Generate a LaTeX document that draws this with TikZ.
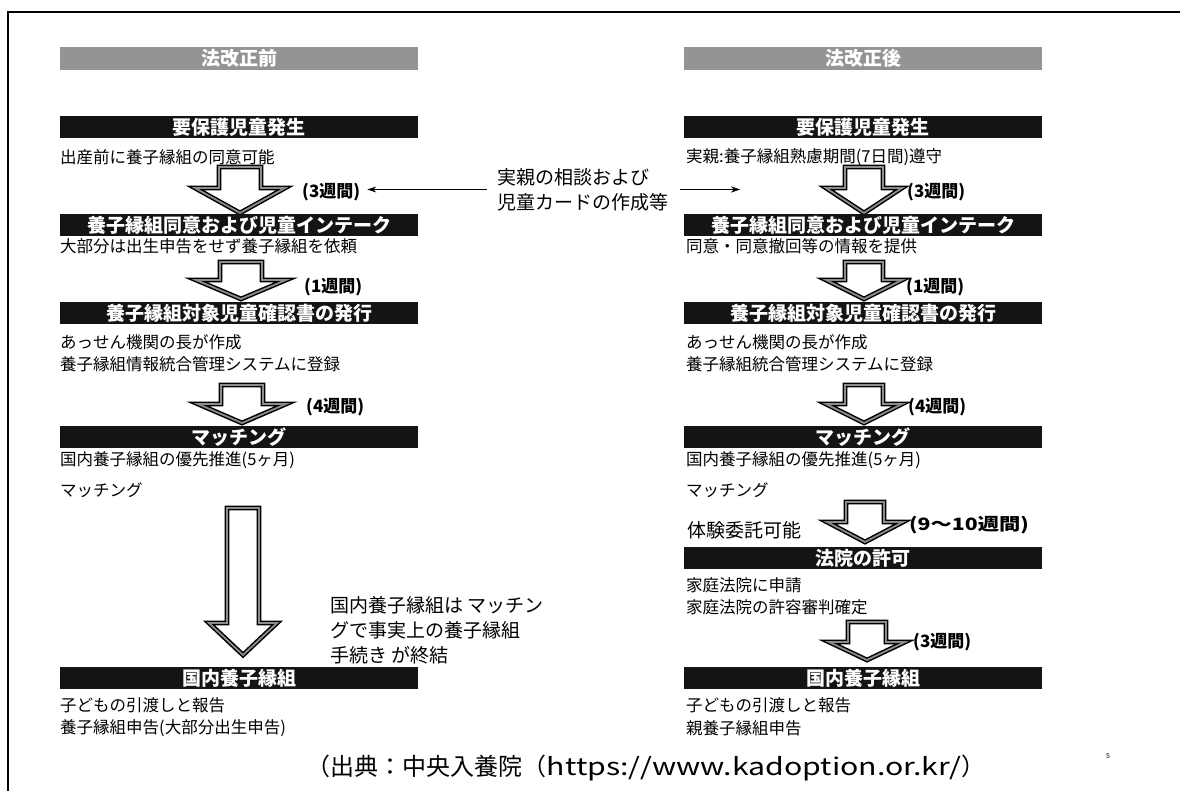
\documentclass[tikz,border=0pt]{standalone}
\usepackage{fontspec}
\setmainfont{Noto Sans CJK JP}
\usetikzlibrary{arrows.meta,calc}
\definecolor{hdrgray}{gray}{0.58}
\definecolor{barblack}{gray}{0.08}
\definecolor{bandgray}{gray}{0.55}
\newcommand{\blkarrow}[6]{%
  \draw[blockarrow] ({#1-#5},#2) -- ({#1+#5},#2) -- ({#1+#5},#3) -- ({#1+#6},#3) -- (#1,#4) -- ({#1-#6},#3) -- ({#1-#5},#3) -- cycle;}
\tikzset{
  hdr/.style={fill=hdrgray, minimum width=358pt, minimum height=23pt, inner sep=0pt, text=white, font=\fontsize{19}{20}\selectfont\bfseries},
  barbox/.style={fill=barblack, minimum width=358pt, minimum height=22pt, inner sep=0pt, text=white, font=\fontsize{19}{20}\selectfont\bfseries},
  body/.style={anchor=west, inner sep=0pt, font=\fontsize{16.5}{18}\selectfont},
  lbl/.style={anchor=west, inner sep=0pt, font=\fontsize{17}{18}\selectfont\bfseries},
  note/.style={anchor=west, inner sep=0pt, font=\fontsize{19}{19}\selectfont},
  blockarrow/.style={draw=black, line width=1.5pt, double=bandgray, double distance=1.8pt, fill=white, line join=miter},
  thinarr/.style={line width=0.8pt, -{Stealth[length=9pt,width=6pt]}},
}
\begin{document}
\begin{tikzpicture}[x=1pt,y=-1pt]
\useasboundingbox (0,0) rectangle (1180,791);
\draw[line width=1.4pt] (8,791) -- (8,12) -- (1180,12);
% ---------------- left column ----------------
\node[hdr] (hL) at (239,58.5) {法改正前};
\node[barbox] (L1) at (239,127) {要保護児童発生};
\node[body] (L1t) at (60,157) {出産前に養子縁組の同意可能};
\blkarrow{240}{167}{188}{213}{21}{45}
\node[lbl] (La1) at (302,192) {(3週間)};
\node[barbox] (L2) at (239,225) {養子縁組同意および児童インテーク};
\node[body] (L2t) at (60,246) {大部分は出生申告をせず養子縁組を依頼};
\blkarrow{241}{262}{280}{299}{21}{45}
\node[lbl] (La2) at (304,287) {(1週間)};
\node[barbox] (L3) at (239,313) {養子縁組対象児童確認書の発行};
\node[body] (L3t) at (60,342) {あっせん機関の長が作成};
\node[body] (L3u) at (60,364) {養子縁組情報統合管理システムに登録};
\blkarrow{242}{385}{404}{423}{21}{44}
\node[lbl] (La3) at (306,407) {(4週間)};
\node[barbox] (L4) at (239,437) {マッチング};
\node[body] (L4t) at (60,460) {国内養子縁組の優先推進(5ヶ月)};
\node[body] (L4u) at (60,490) {マッチング};
\blkarrow{243}{508}{623}{655}{16}{34}
\node[note] (Ln1) at (330,605) {国内養子縁組は マッチン};
\node[note] (Ln2) at (330,630) {グで事実上の養子縁組};
\node[note] (Ln3) at (330,655) {手続き が終結};
\node[barbox] (L5) at (239,678) {国内養子縁組};
\node[body] (L5t) at (60,705) {子どもの引渡しと報告};
\node[body] (L5u) at (60,728) {養子縁組申告(大部分出生申告)};
% ---------------- middle note ----------------
\node[anchor=west, inner sep=0pt, align=left, font=\fontsize{19}{25}\selectfont] (mid) at (497,189.5) {実親の相談および\\児童カードの作成等};
\coordinate (rtip) at (740,189.5);
\draw[thinarr] ($(mid.west)+(-10,0)$) -- ($(mid.west -| La1.east)+(7,0)$);
\draw[thinarr] ($(mid.east)+(12,0)$) -- (rtip);
% ---------------- right column ----------------
\node[hdr] (hR) at (863,58.5) {法改正後};
\node[barbox] (R1) at (863,127) {要保護児童発生};
\node[body] (R1t) at (686,157) {実親:養子縁組熟慮期間(7日間)遵守};
\blkarrow{864}{167}{188}{213}{19}{38}
\node[lbl] (Ra1) at (907,192) {(3週間)};
\node[barbox] (R2) at (863,225) {養子縁組同意および児童インテーク};
\node[body] (R2t) at (686,246) {同意・同意撤回等の情報を提供};
\blkarrow{864}{262}{280}{299}{19}{38}
\node[lbl] (Ra2) at (906,287) {(1週間)};
\node[barbox] (R3) at (863,313) {養子縁組対象児童確認書の発行};
\node[body] (R3t) at (686,342) {あっせん機関の長が作成};
\node[body] (R3u) at (686,364) {養子縁組統合管理システムに登録};
\blkarrow{864}{385}{404}{423}{19}{38}
\node[lbl] (Ra3) at (908,407) {(4週間)};
\node[barbox] (R4) at (863,437) {マッチング};
\node[body] (R4t) at (686,460) {国内養子縁組の優先推進(5ヶ月)};
\node[body] (R4u) at (686,490) {マッチング};
\node[note] (R4v) at (687,530) {体験委託可能};
\blkarrow{865}{502}{522}{542}{19}{38}
\node[lbl] (Ra4) at (909,525) {\scalebox{1.25}[1]{(9〜10週間)}};
\node[barbox] (R5) at (863,558) {法院の許可};
\node[body] (R5t) at (686,585) {家庭法院に申請};
\node[body] (R5u) at (686,607) {家庭法院の許容審判確定};
\blkarrow{867}{622}{642}{660}{19}{38}
\node[lbl] (Ra5) at (913,642) {(3週間)};
\node[barbox] (R6) at (863,678) {国内養子縁組};
\node[body] (R6t) at (686,705) {子どもの引渡しと報告};
\node[body] (R6u) at (686,728) {親養子縁組申告};
% ---------------- source ----------------
\node[inner sep=0pt, font=\fontsize{24}{25}\selectfont] (src) at (646,768) {（出典：中央入養院（\scalebox{1.26}[1]{https://www.kadoption.or.kr/}）};
\node[inner sep=0pt, font=\fontsize{7}{8}\selectfont] (pg) at (1108,756) {5};
\end{tikzpicture}
\end{document}
